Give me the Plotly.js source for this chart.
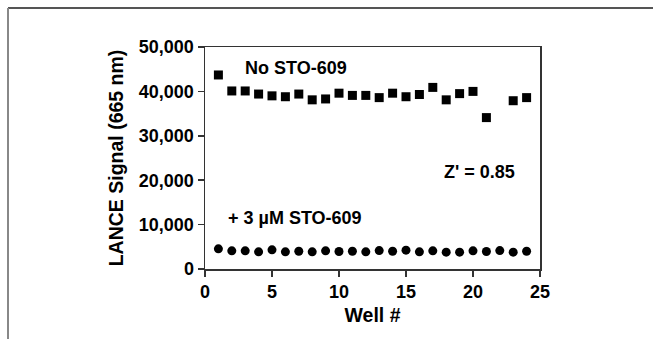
<!DOCTYPE html>
<html>
<head>
<meta charset="utf-8">
<script src="https://cdn.plot.ly/plotly-3.0.1.min.js"></script>
<style>html,body{margin:0;padding:0;background:#fff;}#chart{width:653px;height:339px;}</style>
</head>
<body>
<div id="chart"></div>
<script>
const wells = [1,2,3,4,5,6,7,8,9,10,11,12,13,14,15,16,17,18,19,20,21,22,23,24];
const noSTO = [43700,40100,40100,39400,39000,38800,39400,38100,38300,39600,39100,39100,38600,39600,38800,39300,40900,38100,39500,40000,34100,null,37900,38600];
const withSTO = [4540,4090,4090,3870,4310,3870,4000,3870,4090,3950,4000,3870,4150,4000,4250,3870,4090,3800,3800,4090,3950,4150,3800,4000];
const xTicks = [0,5,10,15,20,25];
const yTicks = [0,10000,20000,30000,40000,50000];
const yTickText = ["0","10,000","20,000","30,000","40,000","50,000"];

const font = "Liberation Sans, Arial, sans-serif";
const axisCol = "#333";

const traces = [
  {x: wells, y: noSTO, mode: "markers", type: "scatter", name: "No STO-609",
   marker: {symbol: "square", size: 9, color: "#000"}},
  {x: wells, y: withSTO, mode: "markers", type: "scatter", name: "+ 3 µM STO-609",
   marker: {symbol: "circle", size: 9, color: "#000"}}
];

const layout = {
  width: 653, height: 339,
  margin: {l: 205, r: 113, t: 47, b: 70},
  paper_bgcolor: "#fff", plot_bgcolor: "#fff",
  showlegend: false,
  font: {family: font, color: "#000", size: 18, weight: "bold"},
  xaxis: {
    range: [0, 25], tickvals: xTicks, ticks: "outside", ticklen: 6, tickwidth: 1.5, tickcolor: axisCol,
    showline: true, linecolor: axisCol, linewidth: 1.5, mirror: true, showgrid: false, zeroline: false,
    tickfont: {family: font, size: 18, color: "#000", weight: "bold"},
    title: {text: "Well #", font: {family: font, size: 19.5, color: "#000", weight: "bold"}, standoff: 7}
  },
  yaxis: {
    range: [0, 50000], tickvals: yTicks, ticktext: yTickText, ticks: "outside", ticklen: 6, tickwidth: 1.5, tickcolor: axisCol,
    showline: true, linecolor: axisCol, linewidth: 1.5, mirror: true, showgrid: false, zeroline: false,
    tickfont: {family: font, size: 18, color: "#000", weight: "bold"},
    title: {text: "LANCE Signal (665 nm)", font: {family: font, size: 19.5, color: "#000", weight: "bold"}, standoff: 10}
  },
  annotations: [
    {x: 6.8, y: 45300, xref: "x", yref: "y", text: "No STO-609", showarrow: false,
     font: {family: font, size: 18, color: "#000", weight: "bold"}},
    {x: 20.5, y: 21750, xref: "x", yref: "y", text: "Z' = 0.85", showarrow: false,
     font: {family: font, size: 18, color: "#000", weight: "bold"}},
    {x: 6.7, y: 11570, xref: "x", yref: "y", text: "+ 3 µM STO-609", showarrow: false,
     font: {family: font, size: 18, color: "#000", weight: "bold"}}
  ],
  shapes: [
    {type: "line", xref: "paper", yref: "paper", x0: (8-205)/335, x1: (660-205)/335, y0: (269.5-8)/222.5, y1: (269.5-8)/222.5,
     line: {color: "#555", width: 2}},
    {type: "line", xref: "paper", yref: "paper", x0: (8-205)/335, x1: (8-205)/335, y0: (269.5-8)/222.5, y1: (269.5-345)/222.5,
     line: {color: "#888", width: 2}}
  ]
};

Plotly.newPlot("chart", traces, layout, {displayModeBar: false, staticPlot: true});
</script>
</body>
</html>
